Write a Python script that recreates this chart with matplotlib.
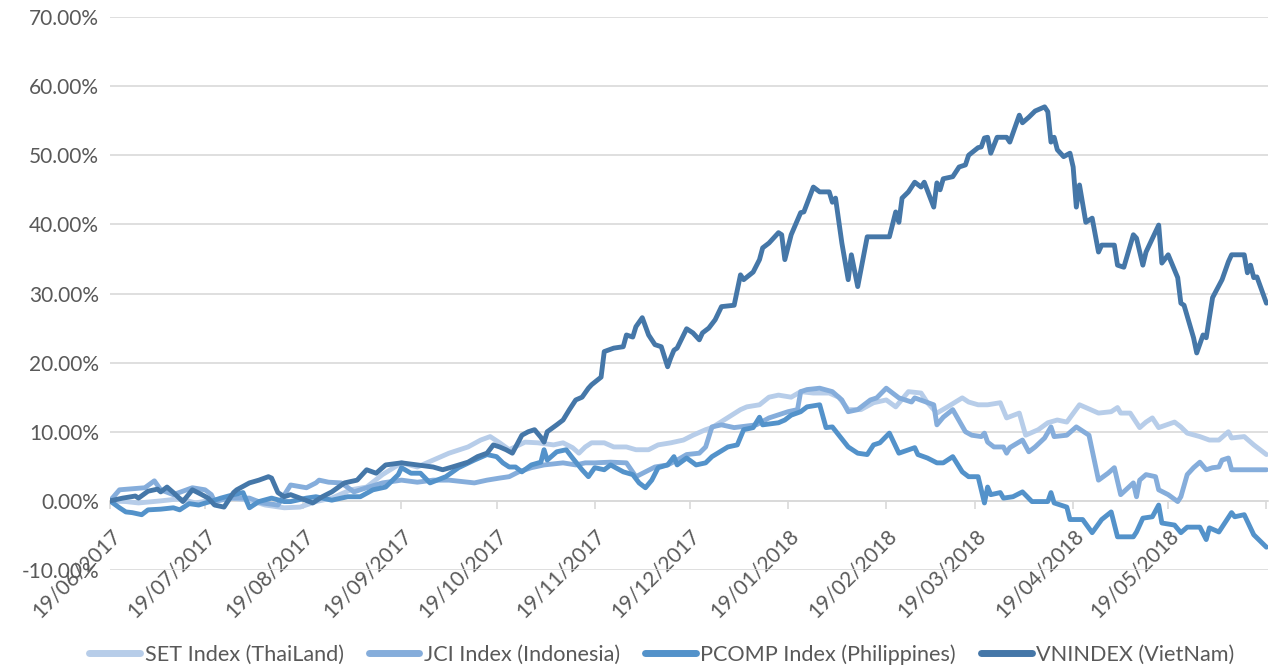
import matplotlib
matplotlib.use("Agg")
import matplotlib.pyplot as plt
import matplotlib.dates as mdates
import pandas as pd
from matplotlib.ticker import FuncFormatter, MultipleLocator

plt.rcParams['font.family'] = ['Lato', 'DejaVu Sans']

start_date = "2017-06-19"
series_names = ["SET Index (ThaiLand)", "JCI Index (Indonesia)",
                "PCOMP Index (Philippines)", "VNINDEX (VietNam)"]

# day offsets from 19/06/2017 and cumulative return (%)
set_days = [0,5,9,16,22,27,32,38,44,49, 55,60,65,70,76,81,86,92,97,102,
            107,113,117,120,123,126,131,135,140,143, 146,148,150,152,156,159,163,166,170,173,
            177,181,184,188,190,199,201,205,208,211, 215,218,222,227,230,233,237,241,245,248,
            252,256,258,261,264,269,271,274,277,281, 283,287,289,293,296,299,302,306,308,312,
            316,318,319,322,325,327,329,331,336,338, 340,344,347,350,353,354,358,361,365]
set_vals = [0.0,-0.1,-0.3,0.0,0.3,-0.3,0.1,0.4,0.1,-0.6, -1.0,-0.9,-0.1,0.4,1.6,2.0,3.8,5.5,4.9,5.9,
            6.9,7.8,8.8,9.3,8.4,7.4,8.5,8.4,8.1,8.4, 7.7,6.9,7.8,8.4,8.4,7.8,7.8,7.4,7.4,8.1,
            8.4,8.8,9.5,10.3,10.6,13.2,13.6,13.9,15.0,15.3, 15.0,15.8,15.6,15.6,15.0,13.2,13.2,14.2,14.6,13.6,
            15.8,15.6,14.2,12.7,13.5,14.9,14.3,13.9,13.9,14.2, 12.0,12.7,9.5,10.3,11.3,11.7,11.4,13.9,13.5,12.7,
            12.9,13.5,12.7,12.7,10.6,11.4,12.0,10.6,11.4,10.7, 9.8,9.3,8.8,8.8,10.0,9.1,9.3,8.1,6.7]

jci_days = [0,3,11,14,16,20,26,30,32,33, 38,44,48,53,57,62,65,66,69,73,
            77,81,86,92,97,102,107,113,115,119, 123,126,129,133,137,143,147,150,153,158,
            163,166,169,172,176,179,182,186,188,190, 193,197,204,208,214,217,218,220,224,228,
            231,233,236,240,242,245,249,253,254,260, 261,263,266,270,272,275,276,277,279,282,
            283,284,288,290,292,295,297,298,302,305, 309,312,315,317,319,323,324,325,327,330,
            331,334,337,338,340,342,344,346,348,350, 351,353,354,365]
jci_vals = [0.0,1.6,1.9,2.9,1.6,0.9,1.9,1.6,0.9,-0.1, 0.4,0.4,-0.3,-0.6,2.3,1.9,2.6,3.0,2.7,2.6,
            1.3,1.9,2.6,3.0,2.7,3.0,3.0,2.7,2.6,3.0, 3.3,3.5,4.2,4.8,5.2,5.5,5.2,5.5,5.5,5.6,
            5.5,3.5,4.2,4.9,5.2,5.9,6.7,6.9,7.8,10.7, 11.0,10.6,11.0,12.0,12.9,13.2,15.8,16.1,16.3,15.8,
            14.6,12.9,13.2,14.6,14.9,16.3,14.9,14.3,14.9,13.9, 11.0,12.1,13.2,10.0,9.5,9.3,9.8,8.5,7.8,7.8,
            6.9,7.7,8.8,7.1,7.8,9.1,10.7,9.3,9.5,10.7, 9.5,3.0,4.0,4.8,0.9,2.6,0.6,3.0,3.8,3.5,
            1.6,0.9,-0.1,0.6,3.8,4.8,5.6,4.5,4.8,4.9, 5.9,6.2,4.5,4.5]

pcomp_days = [0,3,5,7,10,12,16,20,22,25, 28,33,35,39,42,44,47,51,55,57,
              62,65,70,75,79,83,87,91,92,95, 98,101,106,110,115,119,122,124,126,128,
              130,133,136,137,138,141,144,146,149,151, 153,156,158,162,165,167,169,171,173,176,
              178,179,182,185,188,190,195,198,200,203, 205,206,211,213,215,218,220,224,226,228,
              233,236,239,241,243,246,249,254,255,258, 261,263,266,269,271,274,276,277,278,281,
              282,285,288,291,296,297,298,302,303,307, 310,313,316,318,323,324,326,329,331,332,
              336,338,340,344,346,347,350,354,355,358, 361,365]
pcomp_vals = [0.0,-1.0,-1.6,-1.7,-2.0,-1.3,-1.2,-1.0,-1.3,-0.4, -0.6,0.1,0.4,0.9,1.2,-1.0,-0.1,0.4,-0.1,-0.1,
              0.4,0.6,0.1,0.6,0.6,1.6,2.0,3.8,4.8,4.0, 4.0,2.6,3.5,4.8,5.9,6.7,6.4,5.5,4.9,4.9,
              4.2,5.2,5.6,7.4,5.9,7.1,7.4,6.2,4.5,3.5, 4.8,4.5,5.2,4.2,3.8,2.6,1.9,3.0,4.8,5.2,
              6.4,5.2,6.2,5.2,5.5,6.4,7.8,8.1,10.3,10.6, 12.1,11.0,11.3,11.7,12.4,12.9,13.6,13.9,10.6,10.7,
              7.8,6.9,6.7,8.1,8.4,9.8,6.9,7.7,6.7,6.2, 5.5,5.5,6.4,4.2,3.5,3.5,-0.3,2.0,0.9,1.2,
              0.4,0.6,1.3,-0.1,-0.1,1.2,-0.3,-0.9,-2.7,-2.7, -4.6,-2.7,-1.6,-5.2,-5.2,-4.5,-2.5,-2.3,-0.6,-3.2,
              -3.5,-4.6,-3.8,-3.8,-5.6,-3.9,-4.5,-1.7,-2.3,-2.0, -4.9,-6.7]

vn_days = [0,4,8,9,12,15,16,18,20,23, 26,29,31,33,36,39,40,44,47,50,
           51,53,55,57,60,64,67,70,74,78, 81,84,87,92,97,102,105,108,113,116,
           119,121,123,125,127,130,132,134,136,137, 138,141,143,145,147,149,151,152,155,156,
           159,162,163,165,166,168,170,172,174,176, 177,178,179,182,184,186,187,189,191,193,
           197,199,200,203,205,206,208,211,212,213, 215,218,219,222,224,227,228,229,231,233,
           234,236,239,246,248,249,250,252,254,256, 257,260,261,262,263,266,268,270,271,274,
           275,276,277,278,280,283,284,287,288,290, 292,295,296,297,298,299,301,303,304,305,
           306,308,310,312,313,317,318,320,323,324, 326,327,331,332,334,337,338,339,342,343,
           345,346,348,351,353,354,358,359,360,361, 362,365]
vn_vals = [0.0,0.4,0.7,0.4,1.4,1.7,1.3,2.0,1.2,-0.1, 1.6,0.9,0.4,-0.6,-0.9,1.2,1.6,2.6,3.0,3.5,
           3.3,1.2,0.6,0.9,0.4,-0.3,0.6,1.3,2.6,3.0, 4.5,4.0,5.2,5.5,5.2,4.9,4.5,4.9,5.6,6.4,
           6.9,8.1,7.8,7.4,6.9,9.5,10.0,10.3,9.2,8.5, 10.0,11.0,11.7,13.2,14.6,15.0,16.3,16.8,17.9,21.6,
           22.1,22.3,24.0,23.7,25.2,26.5,24.0,22.6,22.3,19.4, 20.7,21.8,22.1,24.9,24.3,23.3,24.3,25.0,26.2,28.1,
           28.3,32.7,32.0,33.1,34.9,36.6,37.3,38.8,38.5,34.9, 38.5,41.7,41.8,45.4,44.7,44.7,43.2,43.8,37.3,32.0,
           35.6,31.0,38.2,38.2,41.8,40.3,43.8,44.7,46.1,45.4, 46.1,42.5,46.0,45.0,46.6,46.9,48.3,48.6,50.0,51.1,
           51.2,52.5,52.6,50.3,52.6,52.6,51.9,55.8,54.7,55.5, 56.4,57.0,56.3,51.9,52.6,50.8,49.8,50.3,48.3,42.5,
           45.7,40.3,40.9,36.0,37.0,37.0,34.1,33.8,38.5,38.0, 34.1,36.0,39.9,34.4,35.6,32.3,28.6,28.3,23.6,21.4,
           24.0,23.6,29.4,32.0,34.6,35.6,35.6,33.0,34.1,32.3, 32.4,28.6]

tick_labels = ["19/06/2017", "19/07/2017", "19/08/2017", "19/09/2017", "19/10/2017",
               "19/11/2017", "19/12/2017", "19/01/2018", "19/02/2018", "19/03/2018",
               "19/04/2018", "19/05/2018"]
end_date = "2018-06-19"

colors = ["#b7cde9", "#85addb", "#5392ca", "#4577a8"]
text_color = "#595959"
grid_color = "#d9d9d9"

W, H = 1275, 672
fig = plt.figure(figsize=(W / 100, H / 100), dpi=100)
ax = fig.add_axes([110 / W, 1 - 570 / H, (1268 - 110) / W, (570 - 17) / H])

t0 = pd.Timestamp(start_date)
series = [(set_days, set_vals), (jci_days, jci_vals),
          (pcomp_days, pcomp_vals), (vn_days, vn_vals)]
for (d, v), name, c in zip(series, series_names, colors):
    dates = [t0 + pd.Timedelta(days=int(x)) for x in d]
    ax.plot(dates, v, color=c, lw=3.5, label=name,
            solid_joinstyle='round', solid_capstyle='round')

ax.set_ylim(-10, 70)
ax.yaxis.set_major_locator(MultipleLocator(10))
ax.yaxis.set_major_formatter(FuncFormatter(lambda v, p: f"{v:.2f}%"))
ax.set_xlim(t0, pd.Timestamp(end_date) + pd.Timedelta(hours=12))

tick_dates = [pd.to_datetime(s, format="%d/%m/%Y") for s in tick_labels]
ax.set_xticks(tick_dates)
ax.set_xticklabels(tick_labels)
ax.set_xticks([pd.Timestamp(end_date)], minor=True)

ax.grid(axis='y', color=grid_color, lw=1.2)
ax.set_axisbelow(True)
for s in ['top', 'right', 'left']:
    ax.spines[s].set_visible(False)
ax.spines['bottom'].set_position(('data', 0))
ax.spines['bottom'].set_color(grid_color)
ax.spines['bottom'].set_linewidth(1.2)
ax.spines['bottom'].set_zorder(0.5)

ax.tick_params(axis='y', length=0, pad=8, labelsize=15, labelcolor=text_color)
ax.tick_params(axis='x', which='both', direction='out', length=6, width=1.2,
               color=grid_color, pad=12, labelsize=15, labelcolor=text_color)
for lbl in ax.get_xticklabels():
    lbl.set_rotation(45)
    lbl.set_ha('right')
    lbl.set_va('top')
    lbl.set_rotation_mode('anchor')

leg = fig.legend(loc='center', bbox_to_anchor=(0.519, 0.026), ncol=4, frameon=False,
                 handlelength=2.35, handletextpad=0.2, columnspacing=1.15,
                 fontsize=15.6, labelcolor=text_color)
for line in leg.get_lines():
    line.set_linewidth(5)

fig.savefig("out.png", dpi=100)
